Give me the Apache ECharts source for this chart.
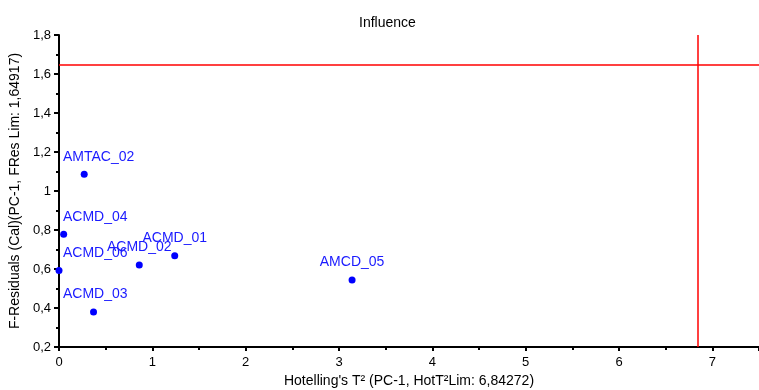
<!DOCTYPE html>
<html>
<head>
<meta charset="utf-8">
<script src="https://cdn.jsdelivr.net/npm/echarts@6/dist/echarts.min.js"></script>
<style>html,body{margin:0;padding:0;background:#fff}#c{width:759px;height:390px}</style>
</head>
<body>
<div id="c"></div>
<script>
var sampleNames = ['AMTAC_02', 'ACMD_04', 'ACMD_06', 'ACMD_02', 'ACMD_01', 'ACMD_03', 'AMCD_05'];
var hotellingT2 = [0.27, 0.05, 0.0, 0.86, 1.24, 0.37, 3.14];
var fResiduals = [1.086, 0.778, 0.592, 0.620, 0.668, 0.379, 0.544];
var hotT2Limit = 6.84272;
var fResLimit = 1.64917;
var titleText = 'Influence';
var xAxisName = "Hotelling's T\u00B2 (PC-1, HotT\u00B2Lim: 6,84272)";
var yAxisName = 'F-Residuals (Cal)(PC-1, FRes Lim: 1,64917)';

var pts = sampleNames.map(function (n, i) { return { name: n, value: [hotellingT2[i], fResiduals[i]] }; });
var font = 'Liberation Sans, Arial, sans-serif';
function fmt(v) { return String(+v.toFixed(1)).replace('.', ','); }

var chart = echarts.init(document.getElementById('c'));
chart.setOption({
  animation: false,
  title: { text: titleText, left: 354, top: 11, textStyle: { fontFamily: font, fontSize: 14, fontWeight: 'normal', color: '#000' } },
  grid: { left: 59, right: 0, top: 35, bottom: 43, containLabel: false, outerBoundsMode: 'none' },
  xAxis: {
    type: 'value', min: 0, max: 7.5, interval: 1,
    name: xAxisName, nameLocation: 'middle', nameGap: 26,
    nameTextStyle: { fontFamily: font, fontSize: 14, color: '#000' },
    axisLine: { onZero: false, lineStyle: { color: '#000', width: 2 } },
    axisTick: { show: true, length: 4, lineStyle: { color: '#000', width: 2 } },
    minorTick: { show: true, splitNumber: 2, length: 3, lineStyle: { color: '#000', width: 2 } },
    splitLine: { show: false },
    axisLabel: { fontFamily: font, fontSize: 13, color: '#000', margin: 9, showMaxLabel: false,
      formatter: function (v) { return Math.abs(v - Math.round(v)) < 1e-9 ? fmt(v) : ''; } }
  },
  yAxis: {
    type: 'value', min: 0.2, max: 1.8, interval: 0.2,
    name: yAxisName, nameLocation: 'middle', nameGap: 34,
    nameTextStyle: { fontFamily: font, fontSize: 14, color: '#000' },
    axisLine: { onZero: false, lineStyle: { color: '#000', width: 2 } },
    axisTick: { show: true, length: 5, lineStyle: { color: '#000', width: 2 } },
    minorTick: { show: true, splitNumber: 2, length: 3, lineStyle: { color: '#000', width: 2 } },
    splitLine: { show: false },
    axisLabel: { fontFamily: font, fontSize: 13, color: '#000', margin: 8, formatter: fmt }
  },
  series: [{
    type: 'scatter',
    data: pts,
    symbolSize: 7,
    itemStyle: { color: '#0000ff', opacity: 1 },
    label: { show: true, position: 'top', distance: 7, formatter: '{b}', fontFamily: font, fontSize: 14, color: '#1a1aff' },
    labelLayout: function (p) {
      var minX = 63;
      if (p.labelRect.x < minX) { return { dx: minX - p.labelRect.x }; }
      return {};
    },
    markLine: {
      silent: true, symbol: 'none', animation: false,
      label: { show: false },
      lineStyle: { color: '#ff0000', width: 1.5, type: 'solid' },
      data: [{ xAxis: hotT2Limit }, { yAxis: fResLimit }]
    }
  }]
});
</script>
</body>
</html>
